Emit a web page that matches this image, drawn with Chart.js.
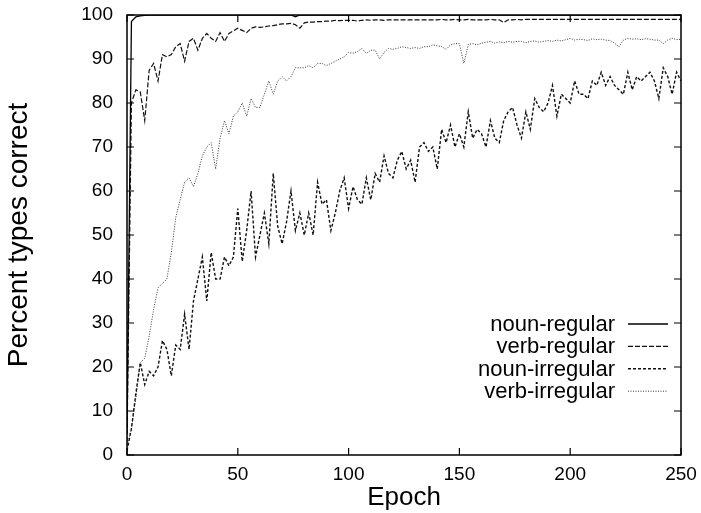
<!DOCTYPE html>
<html>
<head>
<meta charset="utf-8">
<script src="https://cdn.jsdelivr.net/npm/chart.js@4/dist/chart.umd.min.js"></script>
<style>
  html, body { margin: 0; padding: 0; background: #fff; }
  #wrap { width: 701px; height: 513px; }
</style>
</head>
<body>
<div id="wrap"><canvas id="lossChart" width="701" height="513"></canvas></div>
<script>
// values, one every 2 epochs (0..250)
const nounRegular = [
  5, 98.5, 99.6, 99.8, 99.9, 100, 100, 100, 100, 100,
  100, 100, 100, 100, 100, 100, 100, 100, 100, 100,
  100, 100, 100, 100, 100, 100, 100, 100, 100, 100,
  100, 100, 100, 100, 100, 100, 100, 100, 99.6, 100,
  100, 100, 100, 100, 100, 100, 100, 100, 100, 100,
  100, 100, 100, 100, 100, 100, 100, 100, 100, 100,
  100, 100, 100, 100, 100, 100, 100, 100, 100, 100,
  100, 100, 100, 100, 100, 100, 100, 100, 100, 100,
  100, 100, 100, 100, 100, 100, 100, 100, 100, 100,
  100, 100, 100, 100, 100, 100, 100, 100, 100, 100,
  100, 100, 100, 100, 100, 100, 100, 100, 100, 100,
  100, 100, 100, 100, 100, 100, 100, 100, 100, 100,
  100, 100, 100, 100, 100, 100
];
const verbRegular = [
  3, 80, 83, 82.5, 76, 87.4, 89, 85, 91, 90.5,
  91, 92.8, 93.5, 89.5, 94, 94.7, 92, 94.7, 95.8, 94.7,
  94, 96, 94, 95.8, 96.4, 97, 96.5, 96, 97, 97.3,
  97.2, 97.3, 97.5, 97.6, 97.8, 98, 98, 98.1, 97.8, 97,
  98.2, 98.4, 98.4, 98.5, 98.5, 98.6, 98.6, 98.8, 98.7, 98.8,
  98.8, 98.8, 98.6, 98.8, 98.9, 98.8, 98.9, 98.9, 98.8, 98.9,
  98.9, 98.9, 98.9, 98.9, 98.9, 98.9, 98.9, 98.9, 98.9, 98.9,
  98.9, 99, 98.9, 98.9, 99, 98.9, 98.9, 99, 98.9, 98.9,
  98.9, 98.9, 99, 98.9, 98.9, 98.3, 98.9, 98.9, 99, 98.9,
  99, 99, 99, 99, 99, 99, 99, 99, 99, 99,
  99, 99, 99, 99, 99, 99, 99, 99, 99, 99,
  99, 99, 99, 99, 99, 99, 99, 99, 99, 99,
  99, 99, 99, 99, 99, 99
];
const nounIrregular = [
  1, 6, 14, 21, 16, 19, 18, 20, 26, 24,
  18, 25, 24, 32, 24, 35, 40, 45, 35, 46,
  40, 40, 45, 43, 45, 56, 44, 51, 60, 45,
  50, 55, 48, 64, 52, 48, 53, 60, 51, 55,
  50, 55, 50, 62, 57, 58, 51, 55, 60, 63,
  56, 61, 58, 57, 63, 58, 64, 62, 68, 64,
  63, 67, 69, 65, 67, 62, 70, 71, 69, 70,
  65, 74, 71, 75, 70, 73, 70, 78, 72, 74,
  73, 70, 76, 72, 71, 76, 78, 79, 75, 72,
  78, 74, 81, 79, 78, 80, 84, 77, 82, 81,
  80, 85, 82, 82, 81, 85, 84, 87, 84, 86,
  84, 83, 82, 87, 83, 86, 85, 86, 87, 85,
  81, 88, 86, 82, 87, 85
];
const verbIrregular = [
  2, 6, 13, 21, 22, 27, 33, 38, 39, 40,
  46, 54, 58, 62, 63, 61, 64, 68, 70, 71,
  65, 72, 76, 73, 77, 78, 80, 77, 81, 79,
  79, 82, 85, 82, 85, 86, 85, 86, 88, 88,
  88, 88.5, 88, 89, 89, 88.5, 89, 89.5, 90, 90.5,
  91.5, 91.3, 91.7, 92.4, 91.3, 92, 92, 90, 91.5, 92.4,
  92.2, 92.4, 92.8, 92.6, 92.4, 92.6, 92.4, 92.8, 92.8, 93.2,
  93, 92.8, 92.2, 93.2, 93.5, 93.5, 89, 93.3, 93.5, 93.2,
  93.6, 93.8, 94, 93.6, 93.9, 93.7, 94, 93.8, 94, 94,
  93.7, 94, 94.1, 93.8, 94, 94.2, 94, 94.3, 94.1, 94.4,
  94.7, 94.3, 94.5, 94.4, 94.2, 94.6, 94.4, 94.5, 94.3, 94.2,
  93.6, 92.8, 94.3, 94.7, 94.5, 94.6, 94.4, 94.6, 94.5, 94.3,
  94.3, 93.5, 94.3, 94.7, 94.4, 94.5
];
const epochs = nounIrregular.map((_, i) => i * 2);
const seriesNames = ["noun-regular", "verb-regular", "noun-irregular", "verb-irregular"];

const FONT = "'Liberation Sans', Arial, Helvetica, sans-serif";

function toPoints(values) {
  return epochs.map((e, i) => ({ x: e, y: values[i] }));
}

// frame + inward tick marks on all four sides
const framePlugin = {
  id: "frame",
  afterDatasetsDraw(chart) {
    const { ctx, chartArea: a, scales } = chart;
    ctx.save();
    ctx.strokeStyle = "#000";
    ctx.lineWidth = 1.5;
    ctx.strokeRect(a.left, a.top, a.right - a.left, a.bottom - a.top);
    ctx.lineWidth = 1.2;
    ctx.beginPath();
    scales.y.ticks.forEach((t) => {
      const y = scales.y.getPixelForValue(t.value);
      ctx.moveTo(a.left, y); ctx.lineTo(a.left + 7, y);
      ctx.moveTo(a.right, y); ctx.lineTo(a.right - 7, y);
    });
    scales.x.ticks.forEach((t) => {
      const x = scales.x.getPixelForValue(t.value);
      ctx.moveTo(x, a.bottom); ctx.lineTo(x, a.bottom - 7);
      ctx.moveTo(x, a.top); ctx.lineTo(x, a.top + 7);
    });
    ctx.stroke();
    ctx.restore();
  }
};

// key in the lower right of the plot, text then line sample
const keyPlugin = {
  id: "key",
  afterDraw(chart) {
    const { ctx, chartArea: a } = chart;
    ctx.save();
    ctx.font = "22px " + FONT;
    ctx.fillStyle = "#000";
    ctx.textAlign = "right";
    ctx.textBaseline = "middle";
    chart.data.datasets.forEach((ds, i) => {
      const y = a.bottom - 131 + i * 22.4;
      const lineEnd = a.right - 13;
      const lineStart = lineEnd - 40;
      ctx.fillText(ds.label, lineStart - 13, y + 1);
      ctx.strokeStyle = ds.borderColor;
      ctx.lineWidth = ds.borderWidth;
      ctx.setLineDash(ds.borderDash || []);
      ctx.beginPath();
      ctx.moveTo(lineStart, y);
      ctx.lineTo(lineEnd, y);
      ctx.stroke();
    });
    ctx.restore();
  }
};

// let the layout padding alone decide where the plot box sits
function noEdgePadding(scale) {
  scale.paddingTop = 0;
  scale.paddingBottom = 0;
  scale.paddingLeft = 0;
  scale.paddingRight = 0;
}

const ctx = document.getElementById("lossChart").getContext("2d");
new Chart(ctx, {
  type: "line",
  data: {
    datasets: [
      {
        label: seriesNames[0],
        data: toPoints(nounRegular),
        borderColor: "#000",
        borderWidth: 1.3,
        borderDash: [],
      },
      {
        label: seriesNames[1],
        data: toPoints(verbRegular),
        borderColor: "#111",
        borderWidth: 1.2,
        borderDash: [5, 2],
      },
      {
        label: seriesNames[2],
        data: toPoints(nounIrregular),
        borderColor: "#111",
        borderWidth: 1.4,
        borderDash: [3, 2],
      },
      {
        label: seriesNames[3],
        data: toPoints(verbIrregular),
        borderColor: "#333",
        borderWidth: 1,
        borderDash: [1, 1.5],
      },
    ],
  },
  options: {
    responsive: false,
    animation: false,
    devicePixelRatio: 1,
    layout: { padding: { top: 15, right: 20, left: 0, bottom: 0 } },
    elements: { point: { radius: 0 }, line: { tension: 0 } },
    plugins: { legend: { display: false }, tooltip: { enabled: false } },
    scales: {
      x: {
        type: "linear",
        min: 0,
        max: 250,
        grid: { display: false, drawTicks: false },
        border: { display: false },
        ticks: { stepSize: 50, padding: 8, color: "#000", font: { family: FONT, size: 19 }, maxRotation: 0 },
        title: { display: true, text: "Epoch", color: "#000", font: { family: FONT, size: 26 }, padding: { top: 0, bottom: 0 } },
        afterFit(scale) { scale.height = 58; noEdgePadding(scale); },
      },
      y: {
        min: 0,
        max: 100,
        grid: { display: false, drawTicks: false },
        border: { display: false },
        ticks: { stepSize: 10, padding: 14, color: "#000", font: { family: FONT, size: 19 } },
        title: { display: true, text: "Percent types correct", color: "#000", font: { family: FONT, size: 28 }, padding: { top: 2, bottom: 0 } },
        afterFit(scale) { scale.width = 127; noEdgePadding(scale); },
      },
    },
  },
  plugins: [framePlugin, keyPlugin],
});
</script>
</body>
</html>
